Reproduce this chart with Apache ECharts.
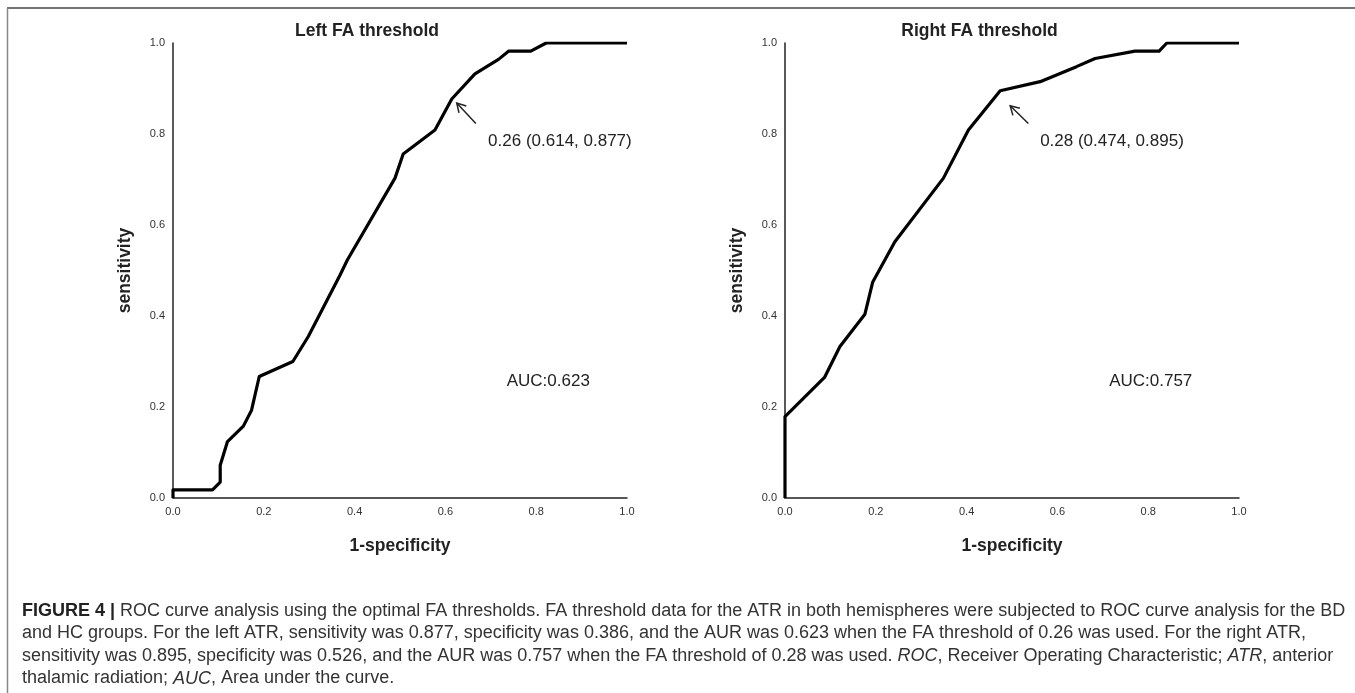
<!DOCTYPE html>
<html>
<head>
<meta charset="utf-8">
<script src="https://cdn.jsdelivr.net/npm/echarts@6/dist/echarts.min.js"></script>
<style>
html,body{margin:0;padding:0;background:#fff;}
#chart{width:1355px;height:693px;}
</style>
</head>
<body>
<div id="chart"></div>
<script>
// ---- data ----
const titles = ['Left FA threshold', 'Right FA threshold'];
const xAxisName = '1-specificity';
const yAxisName = 'sensitivity';
const tickValues = [0, 0.2, 0.4, 0.6, 0.8, 1.0];

const leftFpr = [0, 0, 0.087, 0.104, 0.104, 0.12, 0.155, 0.173, 0.19, 0.264, 0.298, 0.368, 0.384, 0.489, 0.507, 0.577, 0.614, 0.665, 0.717, 0.739, 0.788, 0.822, 1.0];
const leftTpr = [0, 0.018, 0.018, 0.035, 0.072, 0.124, 0.158, 0.193, 0.267, 0.30, 0.355, 0.49, 0.523, 0.703, 0.756, 0.809, 0.877, 0.932, 0.964, 0.982, 0.982, 1.0, 1.0];

const rightFpr = [0, 0, 0.087, 0.121, 0.176, 0.193, 0.242, 0.349, 0.404, 0.474, 0.562, 0.642, 0.683, 0.771, 0.824, 0.841, 1.0];
const rightTpr = [0, 0.179, 0.265, 0.333, 0.404, 0.474, 0.563, 0.703, 0.809, 0.895, 0.915, 0.948, 0.966, 0.982, 0.982, 1.0, 1.0];

const cutLabels = ['0.26 (0.614, 0.877)', '0.28 (0.474, 0.895)'];
const cutLabelPos = [[0.694, 0.783], [0.562, 0.783]];
const arrowTips = [[0.625, 0.868], [0.496, 0.862]];
const arrowTails = [[0.667, 0.823], [0.536, 0.823]];
const aucLabels = ['AUC:0.623', 'AUC:0.757'];
const aucPos = [[0.735, 0.256], [0.714, 0.256]];

const captionLines = [
  '{b|FIGURE 4 |} ROC curve analysis using the optimal FA thresholds. FA threshold data for the ATR in both hemispheres were subjected to ROC curve analysis for the BD',
  'and HC groups. For the left ATR, sensitivity was 0.877, specificity was 0.386, and the AUR was 0.623 when the FA threshold of 0.26 was used. For the right ATR,',
  'sensitivity was 0.895, specificity was 0.526, and the AUR was 0.757 when the FA threshold of 0.28 was used. {i|ROC}, Receiver Operating Characteristic; {i|ATR}, anterior',
  'thalamic radiation; {i|AUC}, Area under the curve.'
];

// ---- chart ----
const FONT = '"Liberation Sans", Arial, Helvetica, sans-serif';
const chart = echarts.init(document.getElementById('chart'), null, {renderer: 'canvas'});

function pairs(xs, ys) { return xs.map((x, i) => [x, ys[i]]); }

const gridLefts = [173, 785];
const grids = gridLefts.map(l => ({left: l, top: 43, width: 454, height: 455, containLabel: false}));

function axisCommon(isY) {
  return {
    type: 'value', min: 0, max: 1, interval: 0.2,
    splitLine: {show: false},
    axisTick: {show: false},
    axisLine: {show: true, onZero: false, lineStyle: {color: '#222', width: 1.5}},
    axisLabel: {
      color: '#333', fontSize: 11, fontFamily: FONT, margin: 8,
      formatter: v => v.toFixed(1)
    },
    nameLocation: 'middle',
    nameGap: 39,
    nameRotate: isY ? 90 : 0,
    nameTextStyle: {fontSize: 17.5, fontWeight: 'bold', color: '#222', fontFamily: FONT}
  };
}

const xAxes = [0, 1].map(i => Object.assign(axisCommon(false), {gridIndex: i, name: xAxisName}));
const yAxes = [0, 1].map(i => Object.assign(axisCommon(true), {gridIndex: i, name: yAxisName}));

const seriesData = [pairs(leftFpr, leftTpr), pairs(rightFpr, rightTpr)];
const series = seriesData.map((d, i) => ({
  type: 'line', xAxisIndex: i, yAxisIndex: i, data: d,
  showSymbol: false, symbol: 'none', smooth: false, animation: false,
  lineStyle: {color: '#000', width: 3.2, join: 'round'}
}));

chart.setOption({
  animation: false,
  backgroundColor: '#fff',
  textStyle: {fontFamily: FONT},
  grid: grids, xAxis: xAxes, yAxis: yAxes, series: series
});

// ---- annotations ----
const g = [];
// frame lines
g.push({type: 'line', shape: {x1: 7, y1: 8, x2: 1355, y2: 8}, style: {stroke: '#444', lineWidth: 1.5}});
g.push({type: 'line', shape: {x1: 7.5, y1: 8, x2: 7.5, y2: 693}, style: {stroke: '#888', lineWidth: 1.5}});

const titleCenters = [367, 979.5];
titles.forEach((t, i) => {
  g.push({type: 'text', x: titleCenters[i], y: 31, style: {
    text: t, fill: '#222', font: 'bold 17.5px ' + FONT, align: 'center', verticalAlign: 'middle'
  }});
});

[0, 1].forEach(i => {
  const tip = chart.convertToPixel({gridIndex: i}, arrowTips[i]);
  const tail = chart.convertToPixel({gridIndex: i}, arrowTails[i]);
  const ang = Math.atan2(tail[1] - tip[1], tail[0] - tip[0]);
  const L = 10, a = Math.PI / 6;
  const w1 = [tip[0] + L * Math.cos(ang + a), tip[1] + L * Math.sin(ang + a)];
  const w2 = [tip[0] + L * Math.cos(ang - a), tip[1] + L * Math.sin(ang - a)];
  g.push({type: 'line', shape: {x1: tip[0], y1: tip[1], x2: tail[0], y2: tail[1]}, style: {stroke: '#222', lineWidth: 1.5}});
  g.push({type: 'polyline', shape: {points: [w1, tip, w2]}, style: {stroke: '#222', lineWidth: 1.5, fill: null}});

  const lp = chart.convertToPixel({gridIndex: i}, cutLabelPos[i]);
  g.push({type: 'text', x: lp[0], y: lp[1], style: {
    text: cutLabels[i], fill: '#222', font: '17px ' + FONT, align: 'left', verticalAlign: 'middle'
  }});
  const ap = chart.convertToPixel({gridIndex: i}, aucPos[i]);
  g.push({type: 'text', x: ap[0], y: ap[1], style: {
    text: aucLabels[i], fill: '#222', font: '17px ' + FONT, align: 'left', verticalAlign: 'middle'
  }});
});

const capY = [611, 633.5, 656, 678.5];
captionLines.forEach((line, i) => {
  g.push({type: 'text', x: 22, y: capY[i], style: {
    text: line, fill: '#333', fontSize: 18, fontFamily: FONT, align: 'left', verticalAlign: 'middle',
    rich: {
      b: {fontWeight: 'bold', fill: '#222', fontSize: 18, fontFamily: FONT},
      i: {fontStyle: 'italic', fill: '#333', fontSize: 18, fontFamily: FONT}
    }
  }});
});

chart.setOption({graphic: g});
</script>
</body>
</html>
